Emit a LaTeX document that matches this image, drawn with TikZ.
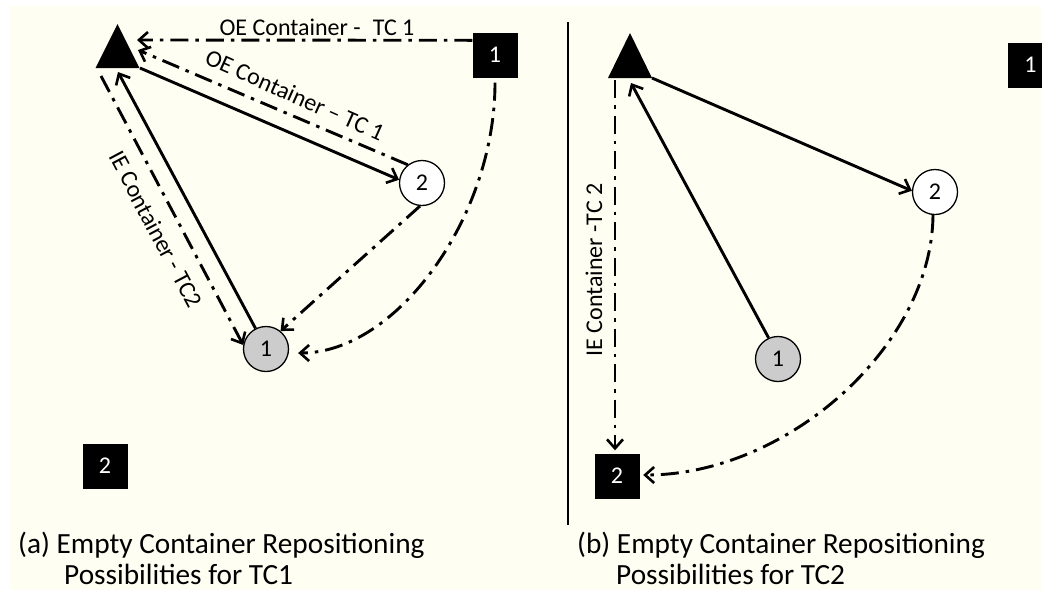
\documentclass[tikz,border=0pt]{standalone}
\usepackage{fontspec}
\setmainfont{Carlito}
\usetikzlibrary{arrows.meta,calc}
\definecolor{bgcream}{HTML}{FEFEF2}
\definecolor{nodegray}{HTML}{CCCCCC}
\tikzset{
  conn/.style={line width=2.9pt, -{Straight Barb[length=9pt,width=16pt,line width=2.6pt]}},
  dashdot/.style={dash pattern=on 18pt off 7pt on 3.5pt off 7pt},
  sq/.style={fill=black, text=white, minimum size=45pt, inner sep=0pt, font=\fontsize{24}{26}\selectfont},
  circ/.style={circle, draw=black, line width=1.3pt, fill=white, minimum size=45pt, inner sep=0pt, font=\fontsize{24}{26}\selectfont},
  lbl/.style={font=\fontsize{24}{28}\selectfont, inner sep=0pt},
  captext/.style={font=\fontsize{29.3}{34}\selectfont, anchor=base west, inner sep=0pt},
}
\begin{document}
\begin{tikzpicture}[x=1pt,y=-1pt]
\useasboundingbox (0,0) rectangle (1042,590);
\clip (0,0) rectangle (1042,590);
\fill[white] (0,0) rectangle (1042,590);
\fill[bgcream] (9,6) rectangle (1042,590);

% ---------- panel (a) ----------
\coordinate (triA) at (117.5,46);
\fill[black] ($(triA)+(0,-22)$) -- ($(triA)+(-22,22)$) -- ($(triA)+(22,22)$) -- cycle;
\node[sq] (s1a) at (495,55) {1};
\node[sq] (s2a) at (105,466) {2};
\node[circ] (c2a) at (422,183) {2};
\node[circ, fill=nodegray] (c1a) at (266,349) {1};

\coordinate (ta1) at (137,40);
\coordinate (ta2) at (138,50);
\coordinate (ta3) at (140,68);
\coordinate (ta4) at (118,72);
\coordinate (ta5) at (101,76);

\draw[conn, dashdot] ($(s1a.north west)+(0,8)$) -- (ta1);
\draw[conn, dashdot] (c2a.128) -- (ta2);
\draw[conn] (ta3) -- (c2a.172);
\draw[conn] (c1a.117) -- (ta4);
\draw[conn, dashdot] (ta5) -- (c1a.170);
\draw[conn, dashdot] (c2a.265) -- (c1a.51);
\draw[conn, dashdot] ($(s1a.south)+(0,5)$) .. controls (495,218) and (396,353) .. ($(c1a.east)+(9,4)$);

\node[lbl] (la1) at (317,27) {OE Container -\hspace{12pt}TC 1};
\node[lbl, rotate=-24] (la2) at (295,95) {OE Container – TC 1};
\node[lbl, rotate=-62] (la3) at (156,229) {IE Container - TC2};

% divider
\draw[line width=2pt] (567.5,22) -- (567.5,525);

% ---------- panel (b) ----------
\coordinate (triB) at (630,56);
\fill[black] ($(triB)+(0,-23)$) -- ($(triB)+(-22,22)$) -- ($(triB)+(22,22)$) -- cycle;
\node[sq] (s1b) at (1030.5,65) {1};
\node[sq] (s2b) at (617,476) {2};
\node[circ] (c2b) at (935,192) {2};
\node[circ, fill=nodegray] (c1b) at (778,359) {1};

\coordinate (tb1) at (652,78);
\coordinate (tb2) at (631,83);
\coordinate (tb3) at (615,80);

\draw[conn] (tb1) -- (c2b.177);
\draw[conn] (c1b.114) -- (tb2);
\draw[conn, dashdot] (tb3) -- ($(s2b.north)+(-2,-3)$);
\draw[conn, dashdot] (c2b.265) .. controls (932,346) and (787,475) .. ($(s2b.east)+(3.5,-1)$);

\node[lbl, rotate=90] (lb1) at (594,270) {IE Container -TC 2};

% ---------- captions ----------
\node[captext] (ca1) at (18,553) {(a) Empty Container Repositioning};
\node[captext] (ca2) at (64,584) {Possibilities for TC1};
\node[captext] (cb1) at (577,553) {(b) Empty Container Repositioning};
\node[captext] (cb2) at (616,584) {Possibilities for TC2};
\end{tikzpicture}
\end{document}
